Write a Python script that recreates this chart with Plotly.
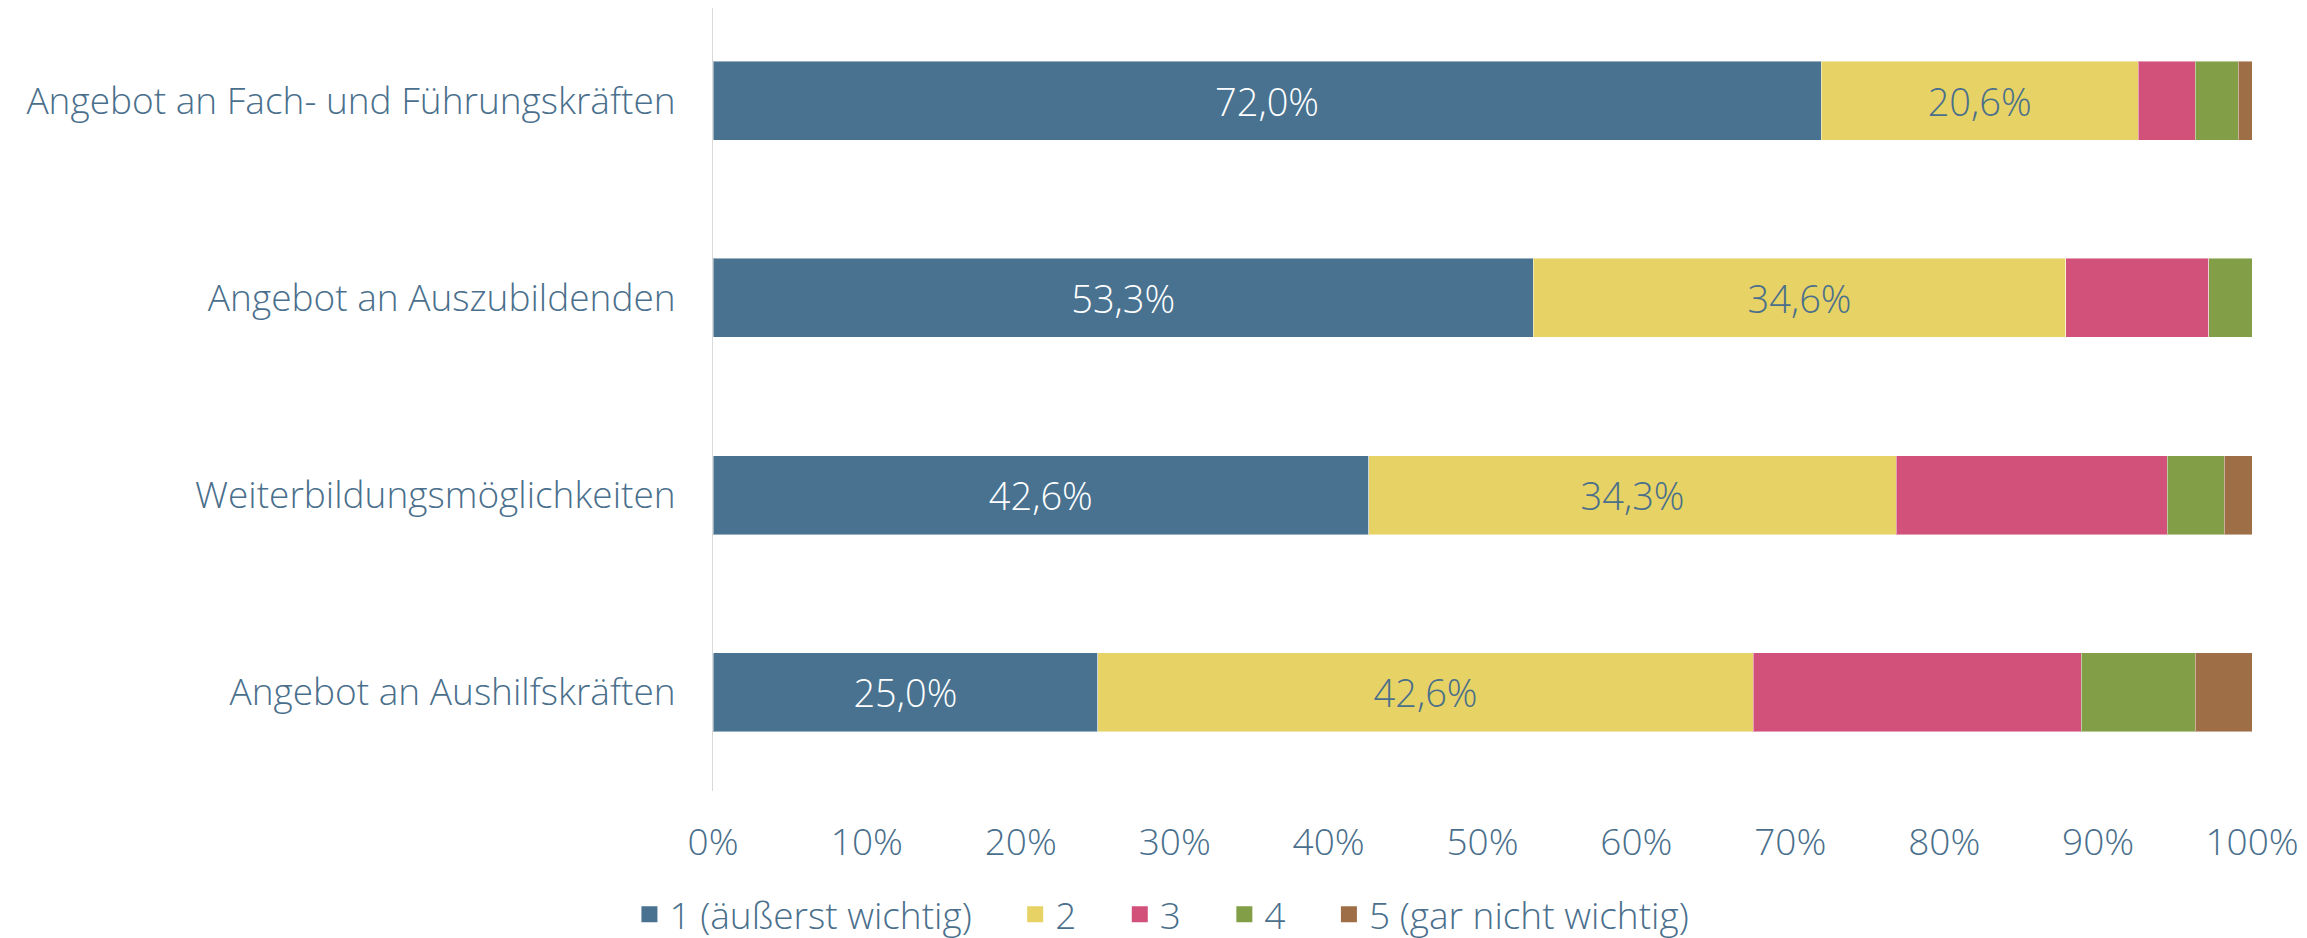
import plotly.graph_objects as go

categories = [
    "Angebot an Fach- und Führungskräften",
    "Angebot an Auszubildenden",
    "Weiterbildungsmöglichkeiten",
    "Angebot an Aushilfskräften",
]

series_names = ["1 (äußerst wichtig)", "2", "3", "4", "5 (gar nicht wichtig)"]
v1 = [72.0, 53.3, 42.6, 25.0]
v2 = [20.6, 34.6, 34.3, 42.6]
v3 = [3.7, 9.3, 17.6, 21.3]
v4 = [2.8, 2.8, 3.7, 7.4]
v5 = [0.9, 0.0, 1.8, 3.7]

tick_vals = [0, 10, 20, 30, 40, 50, 60, 70, 80, 90, 100]
tick_text = ["0%", "10%", "20%", "30%", "40%", "50%", "60%", "70%", "80%", "90%", "100%"]

colors = ["#48728F", "#E6D265", "#D2517A", "#829F48", "#9E6F47"]
text_colors = ["#FFFFFF", "#4A6F8C", None, None, None]

FONT = "Open Sans"
TXT = "#4A6F8C"
FS = 37
PAD = "\u00a0" * 4  # extra room between legend entries

fig = go.Figure()
for i, (name, vals, col, tcol) in enumerate(zip(series_names, [v1, v2, v3, v4, v5], colors, text_colors)):
    fig.add_trace(go.Bar(
        y=categories,
        x=vals,
        name=name,
        orientation="h",
        showlegend=False,
        marker=dict(color=col, line=dict(color="rgba(255,255,255,0.45)", width=1)),
        texttemplate="%{x:.1f}%" if tcol else None,
        textposition="inside" if tcol else "none",
        insidetextanchor="middle",
        textfont=dict(color=tcol or TXT, size=38, family=FONT, weight=300),
        hoverinfo="x+y+name",
    ))
    # legend-only entry so the swatch can be a bigger square
    last = i == len(series_names) - 1
    fig.add_trace(go.Scatter(
        x=[None], y=[None],
        mode="markers",
        name=name if last else name + PAD,
        marker=dict(symbol="square", size=22, color=col),
        hoverinfo="skip",
    ))

fig.update_layout(
    barmode="stack",
    bargap=0.6,
    separators=",.",
    width=2307,
    height=938,
    margin=dict(l=705, r=63, t=0, b=151),
    plot_bgcolor="white",
    paper_bgcolor="white",
    font=dict(family=FONT, color=TXT, size=FS, weight=300),
    legend=dict(
        orientation="h",
        x=0.2917, xanchor="center",
        y=-0.158, yanchor="middle",
        font=dict(size=FS, color=TXT, weight=300),
        traceorder="normal",
        itemwidth=30,
        itemsizing="trace",
    ),
    uniformtext=dict(mode="show", minsize=10),
)

fig.update_xaxes(
    range=[0, 100],
    tickvals=tick_vals,
    ticktext=tick_text,
    showgrid=False,
    zeroline=False,
    showline=False,
    ticks="",
    ticklabelstandoff=26,
    tickfont=dict(size=FS, color=TXT, weight=300),
)

fig.update_yaxes(
    categoryorder="array",
    categoryarray=categories[::-1],
    range=[-0.5, 3.47],
    showgrid=False,
    showline=True,
    linecolor="#D9D9D9",
    linewidth=1,
    ticks="",
    ticklabelstandoff=29,
    tickfont=dict(size=FS, color=TXT, weight=300),
)

fig.write_html("out.html")
